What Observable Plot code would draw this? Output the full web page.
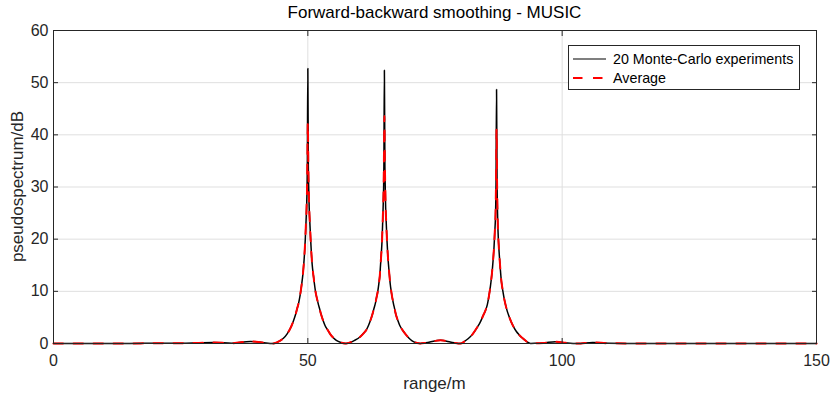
<!DOCTYPE html>
<html>
<head>
<meta charset="utf-8">
<script src="https://cdn.jsdelivr.net/npm/d3@7"></script>
<script src="https://cdn.jsdelivr.net/npm/@observablehq/plot@0.6"></script>
<style>
  html, body { margin: 0; padding: 0; background: #fff; }
  #wrap { position: relative; width: 836px; height: 396px; font-family: "Liberation Sans", Arial, Helvetica, sans-serif; }
  #overlay { position: absolute; left: 0; top: 0; pointer-events: none; }
</style>
</head>
<body>
<div id="wrap"></div>
<script>
// ---- data ----
const titleText = "Forward-backward smoothing - MUSIC";
const xLabel = "range/m";
const yLabel = "pseudospectrum/dB";
const seriesNames = ["20 Monte-Carlo experiments", "Average"];

const xTicks = [0, 50, 100, 150];
const yTicks = [0, 10, 20, 30, 40, 50, 60];

const rangeM = [
  0, 5, 10, 15, 20, 25, 28, 31.5, 35, 38.7, 41, 43.2,
  44.5, 45.2, 45.9, 46.4, 46.8, 47.2, 47.6, 47.9, 48.2, 48.4, 48.6, 48.8, 49.0, 49.2, 49.35, 49.5, 49.65, 49.75, 49.85, 49.9,
  50.0,
  50.1, 50.17, 50.27, 50.38, 50.55, 50.7, 50.85, 51.1, 51.3, 51.5, 51.75, 52.0, 52.3, 52.6, 53.0, 53.4, 53.9, 54.4, 55.0, 55.6, 56.5,
  57.5,
  58.3, 59.2, 60.3, 61.0, 61.5, 61.9, 62.3, 62.7, 63.0, 63.3, 63.5, 63.75, 63.95, 64.15, 64.3, 64.45, 64.6, 64.72, 64.8, 64.9, 64.95,
  65.05,
  65.15, 65.22, 65.3, 65.4, 65.55, 65.7, 65.85, 66.05, 66.2, 66.4, 66.6, 66.8, 67.05, 67.3, 67.7, 68.1, 68.6, 69.2, 69.8, 70.5, 71.3,
  72.1, 73, 74, 76.1, 78, 79, 80.0,
  80.8, 81.5, 82.4, 83.3, 83.9, 84.4, 84.9, 85.3, 85.5, 85.7, 85.9, 86.1, 86.3, 86.45, 86.6, 86.75, 86.9, 87.0,
  87.1,
  87.2, 87.3, 87.55, 87.7, 87.85, 88.0, 88.2, 88.4, 88.6, 88.85, 89.2, 89.6, 90.0, 90.5, 91.0, 91.5, 92.0, 92.5, 93.1,
  93.8, 95, 96.3, 98.7, 101, 103, 106, 109, 115, 120, 130, 140, 150
];

const experiments = [
  0, 0, 0, 0, 0.05, 0.05, 0.1, 0.2, 0.05, 0.4, 0.2, 0,
  0.5, 1.0, 1.8, 2.6, 3.4, 4.4, 5.6, 6.7, 7.8, 8.8, 10, 11.4, 13, 15.2, 17.3, 20, 23.5, 26, 30, 34,
  52.7,
  34, 30, 26, 23.5, 20, 17.3, 15.2, 13, 11.4, 10, 8.8, 7.8, 6.7, 5.6, 4.4, 3.4, 2.6, 1.8, 1.1, 0.6, 0.2,
  0,
  0.2, 0.6, 1.3, 2.0, 2.6, 3.4, 4.4, 5.6, 6.7, 7.8, 8.8, 10, 11.4, 13, 15.2, 17.3, 20, 23.5, 26, 30, 34,
  52.4,
  34, 30, 26, 23.5, 20, 17.3, 15.2, 13, 11.4, 10, 8.8, 7.8, 6.7, 5.6, 4.4, 3.4, 2.6, 1.8, 1.1, 0.5, 0.15,
  0, 0.1, 0.3, 0.6, 0.3, 0.1, 0,
  0.4, 0.9, 1.8, 3.1, 4.1, 5.2, 6.3, 7.5, 8.5, 9.7, 11.0, 12.6, 14.5, 16.3, 18.4, 21.3, 24.8, 31,
  48.7,
  31, 24.8, 18.4, 16.2, 14.2, 12.4, 10.9, 9.7, 8.6, 7.5, 6.2, 5.1, 4.1, 3.1, 2.3, 1.7, 1.2, 0.8, 0.3,
  0, 0.05, 0.1, 0.35, 0.1, 0, 0.2, 0.05, 0, 0, 0, 0, 0
];

const average = [
  0, 0, 0, 0, 0.05, 0.05, 0.1, 0.2, 0.05, 0.4, 0.2, 0,
  0.5, 1.0, 1.8, 2.6, 3.4, 4.4, 5.6, 6.7, 7.8, 8.8, 10, 11.4, 13, 15.2, 17.3, 20, 23.5, 26, 30, 34,
  42.3,
  34, 30, 26, 23.5, 20, 17.3, 15.2, 13, 11.4, 10, 8.8, 7.8, 6.7, 5.6, 4.4, 3.4, 2.6, 1.8, 1.1, 0.6, 0.2,
  0,
  0.2, 0.6, 1.3, 2.0, 2.6, 3.4, 4.4, 5.6, 6.7, 7.8, 8.8, 10, 11.4, 13, 15.2, 17.3, 20, 23.5, 26, 30, 34,
  43.6,
  34, 30, 26, 23.5, 20, 17.3, 15.2, 13, 11.4, 10, 8.8, 7.8, 6.7, 5.6, 4.4, 3.4, 2.6, 1.8, 1.1, 0.5, 0.15,
  0, 0.1, 0.3, 0.6, 0.3, 0.1, 0,
  0.4, 0.9, 1.8, 3.1, 4.1, 5.2, 6.3, 7.5, 8.5, 9.7, 11.0, 12.6, 14.5, 16.3, 18.4, 21.3, 24.8, 31,
  41.1,
  31, 24.8, 18.4, 16.2, 14.2, 12.4, 10.9, 9.7, 8.6, 7.5, 6.2, 5.1, 4.1, 3.1, 2.3, 1.7, 1.2, 0.8, 0.3,
  0, 0.05, 0.1, 0.35, 0.1, 0, 0.2, 0.05, 0, 0, 0, 0, 0
];

const rows = rangeM.map((x, i) => ({x, exp: experiments[i], avg: average[i]}));

const W = 836, H = 396;
const mL = 53, mR = 20, mT = 30, mB = 53;
const axisColor = "#262626";
const gridColor = "#dfdfdf";
const redDash = "9.5,10.5";

const chart = Plot.plot({
  width: W, height: H,
  marginLeft: mL, marginRight: mR, marginTop: mT, marginBottom: mB,
  x: {domain: [0, 150]},
  y: {domain: [0, 60]},
  style: {fontFamily: '"Liberation Sans", Arial, Helvetica, sans-serif', fontSize: "16px", color: axisColor, background: "white", overflow: "visible"},
  marks: [
    Plot.gridX(xTicks.filter(d => d > 0 && d < 150), {stroke: gridColor, strokeOpacity: 1}),
    Plot.gridY(yTicks.filter(d => d > 0 && d < 60), {stroke: gridColor, strokeOpacity: 1}),
    Plot.lineY(rows, {x: "x", y: "exp", stroke: "black", strokeWidth: 1.5, curve: "monotone-x"}),
    Plot.lineY(rows, {x: "x", y: "avg", stroke: "#ff0000", strokeWidth: 2, strokeDasharray: redDash, curve: "monotone-x"}),
    Plot.frame({stroke: axisColor, strokeWidth: 1}),
    Plot.axisX(xTicks, {anchor: "bottom", tickSize: 0, tickPadding: 11, label: null}),
    Plot.axisX(xTicks, {anchor: "bottom", tickSize: -5, tickFormat: () => "", label: null}),
    Plot.axisX(xTicks, {anchor: "top", tickSize: -5, tickFormat: () => "", label: null}),
    Plot.axisY(yTicks, {anchor: "left", tickSize: 0, tickPadding: 5, label: null}),
    Plot.axisY(yTicks, {anchor: "left", tickSize: -5, tickFormat: () => "", label: null}),
    Plot.axisY(yTicks, {anchor: "right", tickSize: -5, tickFormat: () => "", label: null})
  ]
});

const wrap = document.getElementById("wrap");
wrap.appendChild(chart);

// overlay: title, axis labels, legend
const ns = "http://www.w3.org/2000/svg";
const ov = document.createElementNS(ns, "svg");
ov.setAttribute("id", "overlay");
ov.setAttribute("width", W);
ov.setAttribute("height", H);
const cx = mL + (W - mL - mR) / 2;
const cy = mT + (H - mT - mB) / 2;
function el(tag, attrs, text) {
  const e = document.createElementNS(ns, tag);
  for (const k in attrs) e.setAttribute(k, attrs[k]);
  if (text != null) e.textContent = text;
  ov.appendChild(e);
  return e;
}
const ff = '"Liberation Sans", Arial, Helvetica, sans-serif';
el("text", {x: cx, y: 18, "text-anchor": "middle", "font-family": ff, "font-size": 17, fill: "#000"}, titleText);
el("text", {x: cx, y: 389, "text-anchor": "middle", "font-family": ff, "font-size": 17, fill: axisColor}, xLabel);
el("text", {transform: `translate(23,${cy}) rotate(-90)`, "text-anchor": "middle", "font-family": ff, "font-size": 17, fill: axisColor}, yLabel);

// legend box
const lx = 568.5, ly = 45.5, lw = 231, lh = 44;
el("rect", {x: lx, y: ly, width: lw, height: lh, fill: "white", stroke: axisColor, "stroke-width": 1});
const rowY = [59, 78];
el("line", {x1: 573, x2: 606, y1: rowY[0], y2: rowY[0], stroke: "black", "stroke-width": 1.2});
el("line", {x1: 573, x2: 606, y1: rowY[1], y2: rowY[1], stroke: "#ff0000", "stroke-width": 2, "stroke-dasharray": redDash});
seriesNames.forEach((name, i) => {
  el("text", {x: 613, y: rowY[i] + 5, "font-family": ff, "font-size": 14.3, fill: "#000"}, name);
});
wrap.appendChild(ov);
</script>
</body>
</html>
